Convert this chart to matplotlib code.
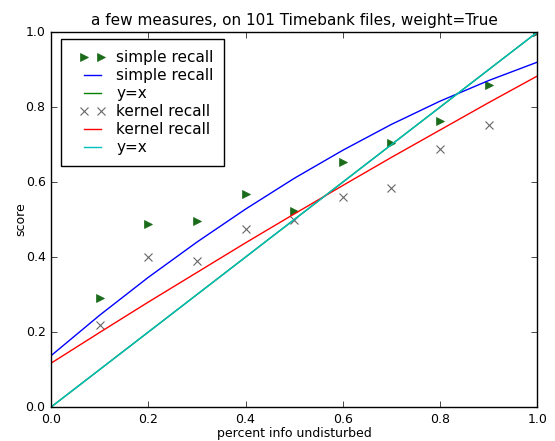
import matplotlib
matplotlib.use('Agg')
import matplotlib.pyplot as plt
from matplotlib.lines import Line2D
from matplotlib.legend_handler import HandlerLine2D

plt.style.use('classic')

x = [0.0, 0.1, 0.2, 0.3, 0.4, 0.5, 0.6, 0.7, 0.8, 0.9, 1.0]
pts_x = [0.1, 0.2, 0.3, 0.4, 0.5, 0.6, 0.7, 0.8, 0.9, 1.0]
simple_pts = [0.291, 0.488, 0.496, 0.568, 0.523, 0.653, 0.704, 0.763, 0.859, 1.0]
kernel_pts = [0.219, 0.400, 0.389, 0.475, 0.499, 0.560, 0.584, 0.688, 0.752, 1.0]
simple_fit = [0.137, 0.245, 0.346, 0.440, 0.528, 0.610, 0.685, 0.754, 0.816, 0.871, 0.920]
kernel_fit = [0.117, 0.199, 0.280, 0.359, 0.438, 0.515, 0.591, 0.666, 0.739, 0.812, 0.883]

fig = plt.figure(figsize=(5.55, 4.41), dpi=100, facecolor='white')
ax = fig.add_axes([0.092, 0.077, 0.876, 0.85])

ax.plot(pts_x, simple_pts, '>', color='#1a6b1a', markeredgecolor='#1a6b1a',
        markersize=6, label='simple recall')
ax.plot(x, simple_fit, '-', color='b', label='simple recall')
ax.plot(x, x, '-', color='g', label='y=x')
ax.plot(pts_x, kernel_pts, 'x', color='#666666', markersize=6,
        markeredgewidth=0.8, label='kernel recall')
ax.plot(x, kernel_fit, '-', color='r', label='kernel recall')
ax.plot(x, x, '-', color='c', label='y=x')

ax.set_xlim(0, 1)
ax.set_ylim(0, 1)
ax.set_xticks([0.0, 0.2, 0.4, 0.6, 0.8, 1.0])
ax.set_yticks([0.0, 0.2, 0.4, 0.6, 0.8, 1.0])
ax.tick_params(labelsize=9)
ax.set_xlabel('percent info undisturbed', fontsize=9, labelpad=1)
ax.set_ylabel('score', fontsize=9, labelpad=-1)
ax.set_title('a few measures, on 101 Timebank files, weight=True', fontsize=11)

leg = ax.legend(loc='upper left', bbox_to_anchor=(0.0206, 0.981),
                fontsize=11, numpoints=2, borderaxespad=0, borderpad=0.7,
                handlelength=2.2, handletextpad=0.7, labelspacing=0.2,
                handler_map={Line2D: HandlerLine2D(numpoints=2, xpad=0.5)})

fig.savefig('out.png', dpi=100, facecolor='white')
